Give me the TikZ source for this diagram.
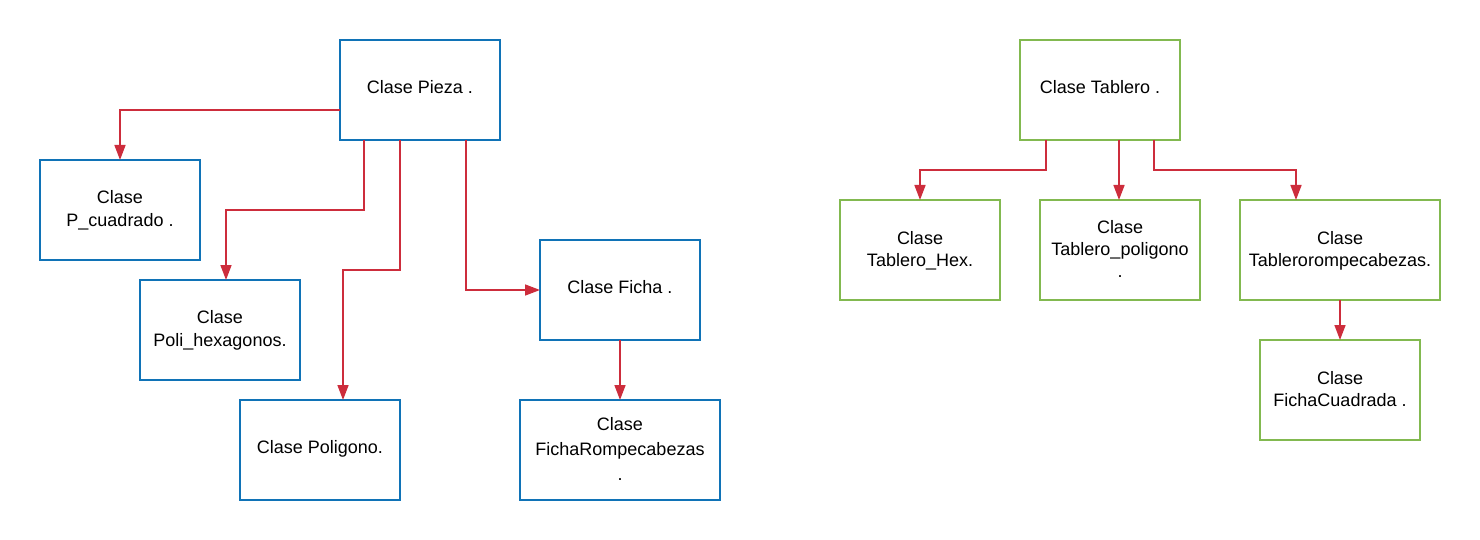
\documentclass[tikz,border=0pt]{standalone}
\usepackage{fontspec}
\setmainfont{Liberation Sans}
\usetikzlibrary{arrows.meta,calc}
\definecolor{boxblue}{RGB}{16,115,183}
\definecolor{boxgreen}{RGB}{130,185,80}
\definecolor{linered}{RGB}{205,45,60}
\tikzset{
  bluebox/.style={draw=boxblue,line width=2pt,fill=white,minimum width=160pt,minimum height=100pt,inner sep=0pt,outer sep=0pt,align=center,font=\fontsize{18}{23}\selectfont,text depth=7pt,anchor=north west},
  greenbox/.style={bluebox,draw=boxgreen},
  multi/.style={text depth=3pt},
  conn/.style={draw=linered,line width=1.6pt,-{Triangle[length=15pt,width=11pt]}},
}
\begin{document}
\begin{tikzpicture}[x=1pt,y=-1pt]
\useasboundingbox (0,0) rectangle (1480,540);
% left tree
\node[bluebox] (pieza) at (340,40) {Clase Pieza .};
\node[bluebox,multi] (pcuad) at (40,160) {Clase\\P\_cuadrado .};
\node[bluebox,multi] (phex) at (140,280) {Clase\\Poli\_hexagonos.};
\node[bluebox] (pol) at (240,400) {Clase Poligono.};
\node[bluebox] (ficha) at (540,240) {Clase Ficha .};
\node[bluebox,multi,minimum width=200pt,font=\fontsize{18}{25}\selectfont] (frompe) at (520,400) {Clase\\FichaRompecabezas\\.};
% right tree
\node[greenbox] (tablero) at (1020,40) {Clase Tablero .};
\node[greenbox,multi,font=\fontsize{18}{22}\selectfont] (thex) at (840,200) {Clase\\Tablero\_Hex.};
\node[greenbox,multi,font=\fontsize{18}{22}\selectfont] (tpol) at (1040,200) {Clase\\Tablero\_poligono\\.};
\node[greenbox,multi,minimum width=200pt,font=\fontsize{18}{22}\selectfont] (trompe) at (1240,200) {Clase\\Tablerorompecabezas.};
\node[greenbox,multi,font=\fontsize{18}{22}\selectfont] (fcuad) at (1260,340) {Clase\\FichaCuadrada .};
% connectors left
\draw[conn] ($(pieza.north west)+(0,70)$) -| (pcuad.north);
\draw[conn] ($(pieza.south west)+(24,0)$) -- ++(0,70) -| ($(phex.north)+(6,0)$);
\draw[conn] ($(pieza.south west)+(60,0)$) -- ++(0,130) -| ($(pol.north)+(23,0)$);
\draw[conn] ($(pieza.south west)+(126,0)$) |- (ficha.west);
\draw[conn] (ficha.south) -- (frompe.north);
% connectors right
\coordinate (tp) at ($(tablero.south west)+(99,0)$);
\draw[conn] ($(tablero.south west)+(26,0)$) -- ++(0,30) -| (thex.north);
\draw[conn] (tp) -- (tp |- tpol.north);
\draw[conn] ($(tablero.south west)+(134,0)$) -- ++(0,30) -| ($(trompe.north)+(-44,0)$);
\draw[conn] (trompe.south) -- (fcuad.north);
\end{tikzpicture}
\end{document}
